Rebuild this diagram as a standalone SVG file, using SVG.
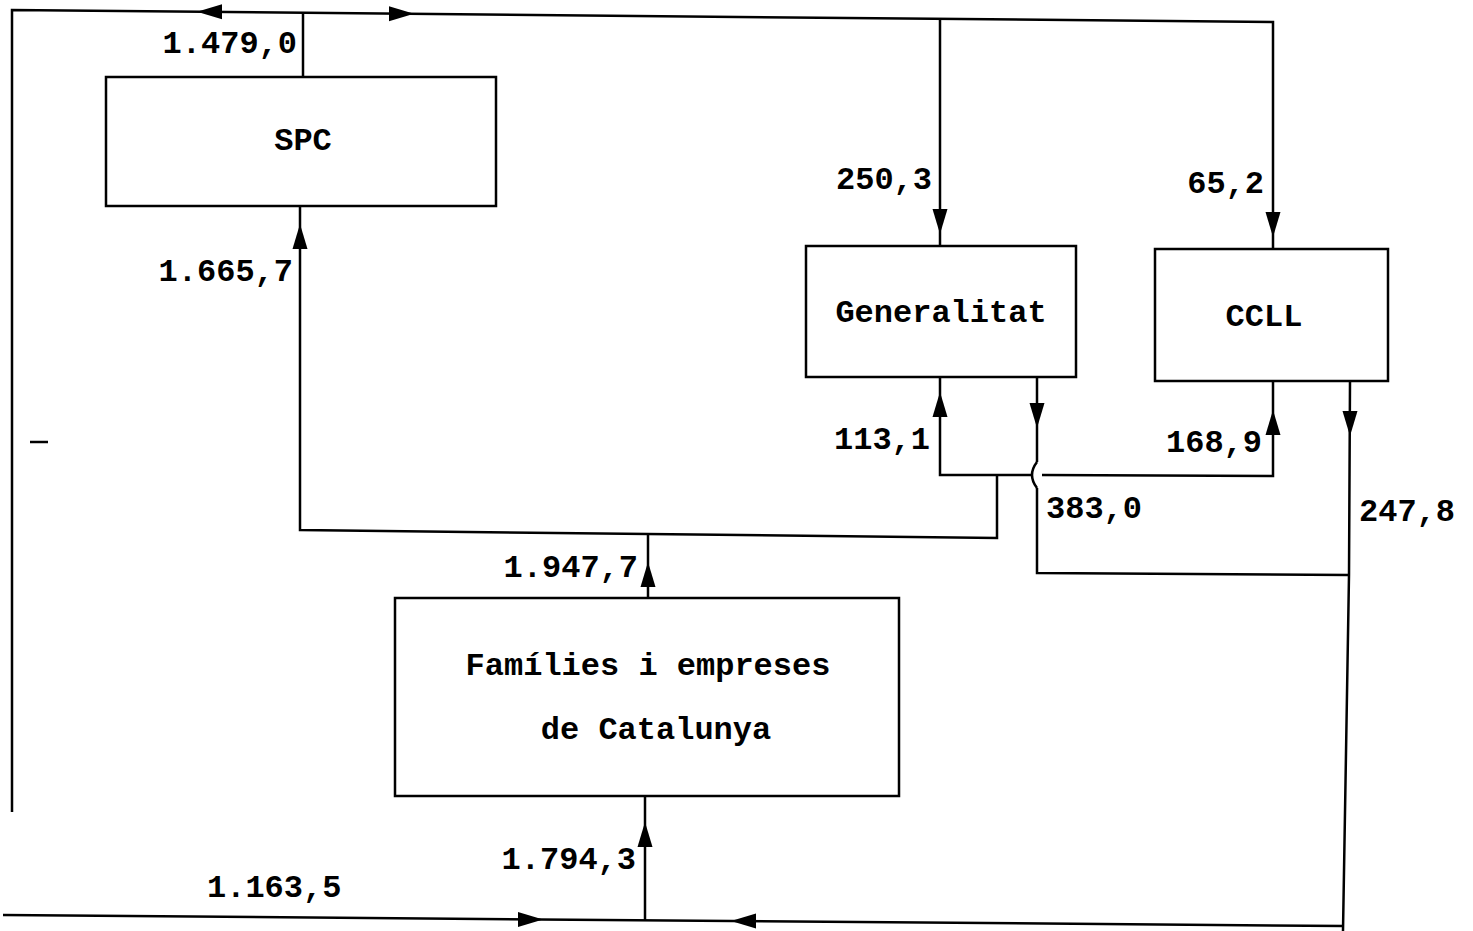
<svg xmlns="http://www.w3.org/2000/svg" width="1473" height="931" viewBox="0 0 1473 931">
<style>
.box{fill:#fff;stroke:#000;stroke-width:2.5}
.ln{fill:none;stroke:#000;stroke-width:2.5;stroke-linejoin:miter}
.t{font-family:"Liberation Mono","Courier New",monospace;font-size:32px;font-weight:bold;fill:#000}
.c{text-anchor:middle}
.e{text-anchor:end}
</style>
<defs>
<path id="ah" d="M0,0 L-25,-7.5 L-25,7.5 Z" fill="#000"/>
</defs>
<rect width="1473" height="931" fill="#fff"/>
<g id="connectors">
<polyline class="ln" points="12,812 12,10 1273,22 1273,249"/>
<line class="ln" x1="303" y1="12.8" x2="303" y2="77"/>
<line class="ln" x1="940" y1="18.8" x2="940" y2="246"/>
<polyline class="ln" points="300,206 300,530 997,538 997,475"/>
<polyline class="ln" points="940,377 940,475 1032,475"/>
<polyline class="ln" points="1042,475 1273,476 1273,381"/>
<line class="ln" x1="1037" y1="377" x2="1037" y2="462"/>
<path class="ln" d="M1037,462 Q1027,475 1037,488"/>
<polyline class="ln" points="1037,488 1037,573 1349,575"/>
<polyline class="ln" points="1350,381 1349,575 1343,931"/>
<line class="ln" x1="648" y1="598" x2="648" y2="535"/>
<line class="ln" x1="645" y1="796" x2="645" y2="921"/>
<line class="ln" x1="3" y1="915" x2="1344" y2="926"/>
<line class="ln" x1="30" y1="442" x2="48" y2="442"/>
<use href="#ah" transform="translate(197,11.8) rotate(180)"/>
<use href="#ah" transform="translate(414,13.8)"/>
<use href="#ah" transform="translate(940,234) rotate(90)"/>
<use href="#ah" transform="translate(1273,237) rotate(90)"/>
<use href="#ah" transform="translate(300,224) rotate(-90)"/>
<use href="#ah" transform="translate(940,392) rotate(-90)"/>
<use href="#ah" transform="translate(1037,428) rotate(90)"/>
<use href="#ah" transform="translate(1273,410) rotate(-90)"/>
<use href="#ah" transform="translate(1350,436) rotate(90)"/>
<use href="#ah" transform="translate(648,562) rotate(-90)"/>
<use href="#ah" transform="translate(645,822) rotate(-90)"/>
<use href="#ah" transform="translate(543,919.5)"/>
<use href="#ah" transform="translate(731,921) rotate(180)"/>
<text class="t e" x="297" y="53">1.479,0</text>
<text class="t e" x="293" y="281">1.665,7</text>
<text class="t e" x="932" y="189">250,3</text>
<text class="t e" x="1264" y="193">65,2</text>
<text class="t e" x="930" y="449">113,1</text>
<text class="t e" x="1262" y="452">168,9</text>
<text class="t" x="1046" y="518">383,0</text>
<text class="t" x="1359" y="521">247,8</text>
<text class="t e" x="638" y="577">1.947,7</text>
<text class="t e" x="636" y="869">1.794,3</text>
<text class="t" x="207" y="897">1.163,5</text>
</g>
<g id="spc">
<rect class="box" x="106" y="77" width="390" height="129"/>
<text class="t c" x="303" y="150">SPC</text>
</g>
<g id="generalitat">
<rect class="box" x="806" y="246" width="270" height="131"/>
<text class="t c" x="941" y="322">Generalitat</text>
</g>
<g id="ccll">
<rect class="box" x="1155" y="249" width="233" height="132"/>
<text class="t c" x="1264" y="326">CCLL</text>
</g>
<g id="families">
<rect class="box" x="395" y="598" width="504" height="198"/>
<text class="t c" x="648" y="675">Famílies i empreses</text>
<text class="t c" x="656" y="739">de Catalunya</text>
</g>
</svg>
